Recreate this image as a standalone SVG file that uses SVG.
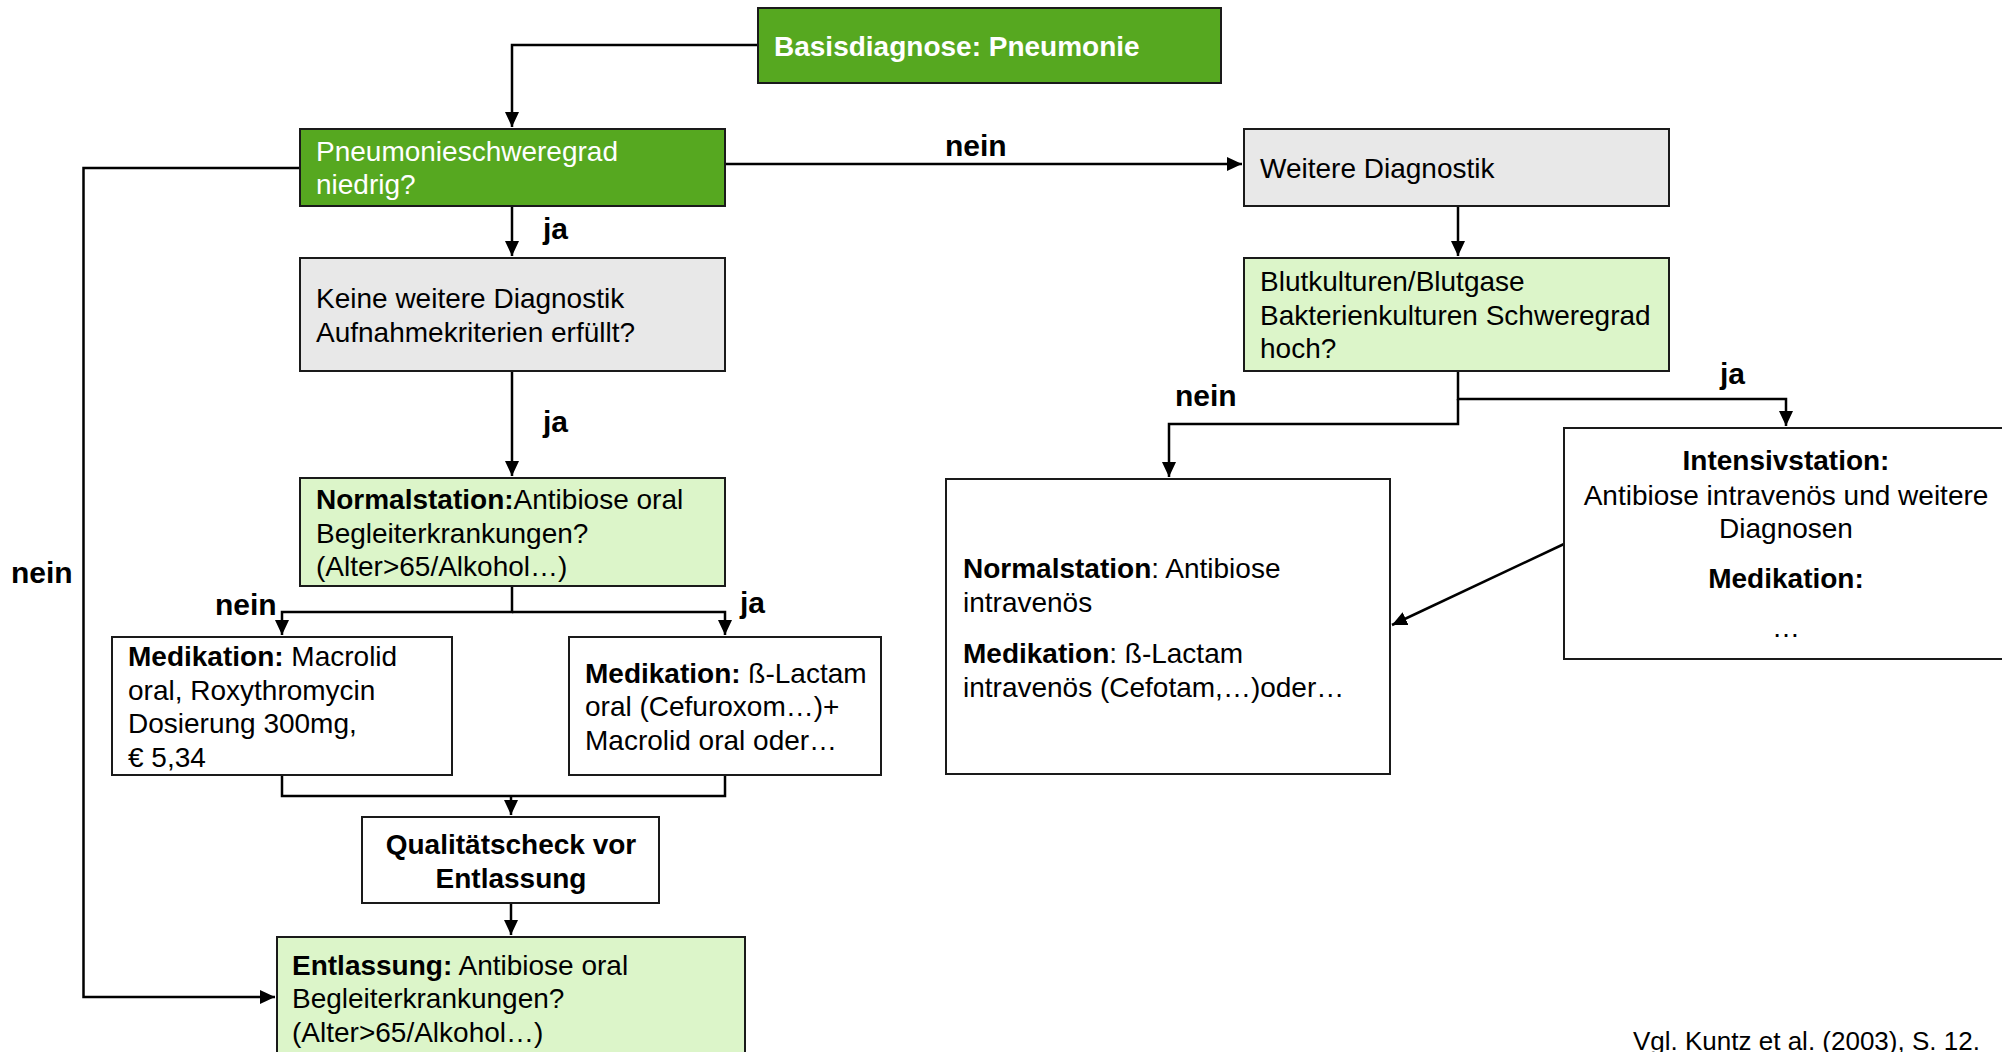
<svg xmlns="http://www.w3.org/2000/svg" width="2002" height="1052" viewBox="0 0 2002 1052">
<style>
text{font-family:"Liberation Sans",Arial,sans-serif;font-size:28px;fill:#000}
.w{fill:#fff}
.b{font-weight:bold}
.lbl{font-weight:bold;font-size:30px}
.c{text-anchor:middle}
.box{stroke:#1a1a1a;stroke-width:2}
.dg{fill:#56a820}
.lg{fill:#dcf5c9}
.gr{fill:#e8e8e8}
.wh{fill:#fff}
.con{fill:none;stroke:#000;stroke-width:2.5}
.foot{font-size:26px}
</style>
<defs>
<marker id="ah" markerUnits="userSpaceOnUse" markerWidth="16" markerHeight="14" refX="15" refY="7" orient="auto">
<path d="M0,0 L15,7 L0,14 Z" fill="#000"/>
</marker>
</defs>
<rect width="2002" height="1052" fill="#fff"/>
<g id="connectors">
<path class="con" d="M758,45 H512 V127" marker-end="url(#ah)"/>
<path class="con" d="M512,207 V256" marker-end="url(#ah)"/>
<path class="con" d="M726,164 H1242" marker-end="url(#ah)"/>
<path class="con" d="M1458,207 V256" marker-end="url(#ah)"/>
<path class="con" d="M512,371 V476" marker-end="url(#ah)"/>
<path class="con" d="M512,587 V612 H282 V635" marker-end="url(#ah)"/>
<path class="con" d="M512,612 H725 V635" marker-end="url(#ah)"/>
<path class="con" d="M282,775 V796 H725 V775"/>
<path class="con" d="M511,796 V815" marker-end="url(#ah)"/>
<path class="con" d="M511,903 V935" marker-end="url(#ah)"/>
<path class="con" d="M300,168 H83.5 V997 H275" marker-end="url(#ah)"/>
<path class="con" d="M1458,371 V399 H1786 V426" marker-end="url(#ah)"/>
<path class="con" d="M1458,399 V424 H1169 V477" marker-end="url(#ah)"/>
<path class="con" d="M1564,544 L1392,625" marker-end="url(#ah)"/>
</g>
<g id="labels">
<text class="lbl" x="945" y="156">nein</text>
<text class="lbl" x="543" y="239">ja</text>
<text class="lbl" x="543" y="432">ja</text>
<text class="lbl" x="11" y="583">nein</text>
<text class="lbl" x="215" y="615">nein</text>
<text class="lbl" x="740" y="613">ja</text>
<text class="lbl" x="1175" y="406">nein</text>
<text class="lbl" x="1720" y="384">ja</text>
</g>
<g id="n-basis">
<rect class="box dg" x="758" y="8" width="463" height="75"/>
<text class="w b" x="774" y="56">Basisdiagnose: Pneumonie</text>
</g>
<g id="n-schweregrad">
<rect class="box dg" x="300" y="129" width="425" height="77"/>
<text class="w" x="316" y="161">Pneumonieschweregrad</text>
<text class="w" x="316" y="194">niedrig?</text>
</g>
<g id="n-weitere">
<rect class="box gr" x="1244" y="129" width="425" height="77"/>
<text x="1260" y="178">Weitere Diagnostik</text>
</g>
<g id="n-keine">
<rect class="box gr" x="300" y="258" width="425" height="113"/>
<text x="316" y="308">Keine weitere Diagnostik</text>
<text x="316" y="342">Aufnahmekriterien erfüllt?</text>
</g>
<g id="n-blut">
<rect class="box lg" x="1244" y="258" width="425" height="113"/>
<text x="1260" y="291">Blutkulturen/Blutgase</text>
<text x="1260" y="325">Bakterienkulturen Schweregrad</text>
<text x="1260" y="358">hoch?</text>
</g>
<g id="n-normal-oral">
<rect class="box lg" x="300" y="478" width="425" height="108"/>
<text x="316" y="509"><tspan class="b">Normalstation:</tspan>Antibiose oral</text>
<text x="316" y="543">Begleiterkrankungen?</text>
<text x="316" y="576">(Alter&gt;65/Alkohol…)</text>
</g>
<g id="n-med-links">
<rect class="box wh" x="112" y="637" width="340" height="138"/>
<text x="128" y="666"><tspan class="b">Medikation:</tspan> Macrolid</text>
<text x="128" y="700">oral, Roxythromycin</text>
<text x="128" y="733">Dosierung 300mg,</text>
<text x="128" y="767">€ 5,34</text>
</g>
<g id="n-med-rechts">
<rect class="box wh" x="569" y="637" width="312" height="138"/>
<text x="585" y="683"><tspan class="b">Medikation:</tspan> ß-Lactam</text>
<text x="585" y="716">oral (Cefuroxom…)+</text>
<text x="585" y="750">Macrolid oral oder…</text>
</g>
<g id="n-quali">
<rect class="box wh" x="362" y="817" width="297" height="86"/>
<text class="b c" x="511" y="854">Qualitätscheck vor</text>
<text class="b c" x="511" y="888">Entlassung</text>
</g>
<g id="n-entlassung">
<rect class="box lg" x="277" y="937" width="468" height="130"/>
<text x="292" y="975"><tspan class="b">Entlassung:</tspan> Antibiose oral</text>
<text x="292" y="1008">Begleiterkrankungen?</text>
<text x="292" y="1042">(Alter&gt;65/Alkohol…)</text>
</g>
<g id="n-normal-iv">
<rect class="box wh" x="946" y="479" width="444" height="295"/>
<text x="963" y="578"><tspan class="b">Normalstation</tspan>: Antibiose</text>
<text x="963" y="612">intravenös</text>
<text x="963" y="663"><tspan class="b">Medikation</tspan>: ß-Lactam</text>
<text x="963" y="697">intravenös (Cefotam,…)oder…</text>
</g>
<g id="n-intensiv">
<rect class="box wh" x="1564" y="428" width="446" height="231"/>
<text class="b c" x="1786" y="470">Intensivstation:</text>
<text class="c" x="1786" y="505">Antibiose intravenös und weitere</text>
<text class="c" x="1786" y="538">Diagnosen</text>
<text class="b c" x="1786" y="588">Medikation:</text>
<text class="c" x="1786" y="637">…</text>
</g>
<text class="foot" x="1633" y="1050">Vgl. Kuntz et al. (2003), S. 12.</text>
</svg>
